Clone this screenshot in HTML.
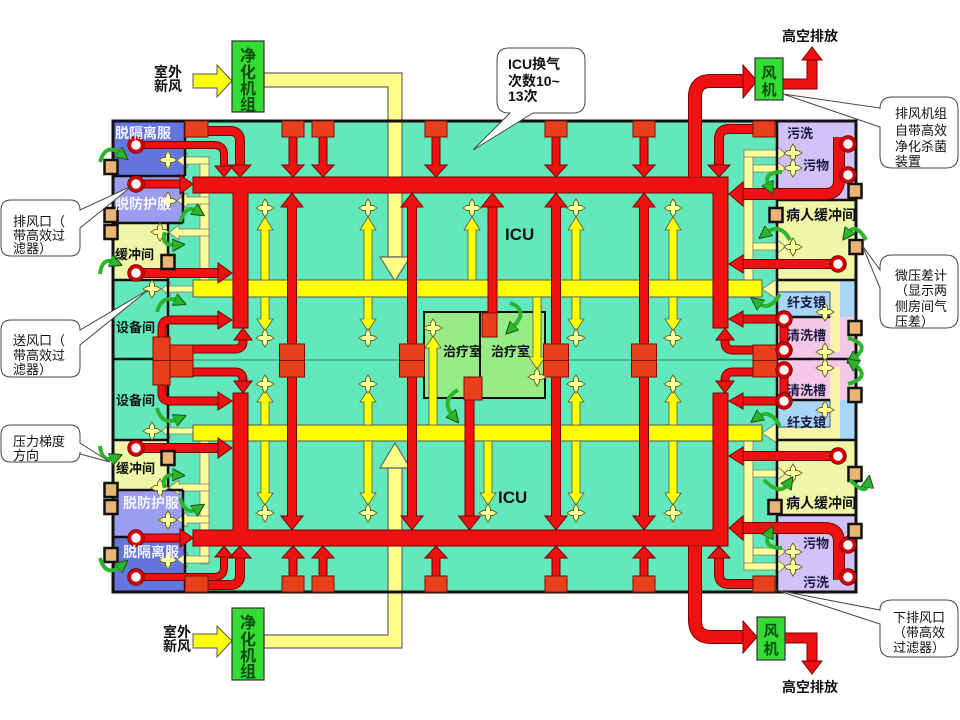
<!DOCTYPE html>
<html><head><meta charset="utf-8">
<style>
html,body{margin:0;padding:0;background:#fff;}
svg{display:block;}
text{font-family:"Liberation Sans","Noto Sans CJK SC","WenQuanYi Zen Hei",sans-serif;}
.b{font-weight:bold;}
</style></head><body>
<svg width="960" height="720" viewBox="0 0 960 720" xmlns="http://www.w3.org/2000/svg">
<defs>
<path id="st" d="M0,-9 L2.5,-5 L2.5,-2.5 L5,-2.5 L9,0 L5,2.5 L2.5,2.5 L2.5,5 L0,9 L-2.5,5 L-2.5,2.5 L-5,2.5 L-9,0 L-5,-2.5 L-2.5,-2.5 L-2.5,-5Z" fill="#ffff99" stroke="#6b6b30" stroke-width="1"/>
<g id="ci"><circle r="6.5" fill="#fff" stroke="#d40000" stroke-width="3.5"/><circle r="8.3" fill="none" stroke="#600" stroke-width="0.8"/></g>
<rect id="sq" x="-6.5" y="-7" width="13" height="14" fill="#e9b476" stroke="#111" stroke-width="2.5"/>
<marker id="gm" viewBox="0 0 10 10" refX="3" refY="5" markerWidth="3.2" markerHeight="3.2" orient="auto"><path d="M0,0 L10,5 L0,10Z" fill="#2cb52c" stroke="#145214" stroke-width="0.8"/></marker>
</defs>
<rect width="960" height="720" fill="#fff"/>

<!-- building -->
<rect x="113" y="121" width="743" height="471" fill="#62e8bb"/>
<!-- left rooms -->
<rect x="113" y="121" width="72" height="55" fill="#6475dc"/>
<rect x="113" y="176" width="70" height="47" fill="#9c9cf0"/>
<rect x="113" y="223" width="55" height="57" fill="#eef6a8"/>
<rect x="113" y="440" width="55" height="50" fill="#eef6a8"/>
<rect x="113" y="490" width="70" height="47" fill="#9c9cf0"/>
<rect x="113" y="537" width="72" height="55" fill="#6475dc"/>
<!-- right rooms -->
<rect x="777" y="121" width="79" height="79" fill="#d0c2f6"/>
<rect x="777" y="200" width="79" height="80" fill="#eef6a8"/>
<rect x="777" y="280" width="79" height="37" fill="#a8d6f6"/>
<rect x="777" y="317" width="79" height="83" fill="#f6c8e8"/>
<rect x="777" y="400" width="79" height="40" fill="#a8d6f6"/>
<rect x="777" y="440" width="79" height="75" fill="#eef6a8"/>
<rect x="777" y="515" width="79" height="77" fill="#d0c2f6"/>
<path d="M777,281 H840 V352 H830 V291 H777Z" fill="#f6f6a6"/>
<path d="M777,440 H840 V367 H830 V428 H777Z" fill="#f6f6a6"/>
<rect x="777" y="292" width="53" height="25" fill="#a8d6f6" stroke="#335" stroke-width="0.8"/>
<rect x="777" y="400" width="53" height="27" fill="#a8d6f6" stroke="#335" stroke-width="0.8"/>

<line x1="168" y1="360" x2="777" y2="360" stroke="#2c8a70" stroke-width="1"/>

<!-- treatment rooms -->
<rect x="424" y="312" width="56" height="86" fill="#98ec88" stroke="#111" stroke-width="2"/>
<rect x="480" y="312" width="65" height="86" fill="#98ec88" stroke="#111" stroke-width="2"/>

<!-- fresh air -->
<path d="M193,74 H217 V65 L232,81 L217,97 V88 H193Z" fill="#ffff00" stroke="#555" stroke-width="1"/>
<path d="M264,73 H402 V257 H388 V87 H264Z" fill="#ffff88" stroke="#666" stroke-width="1.2"/>
<path d="M380,257 H410 L395,281Z" fill="#ffff88" stroke="#666" stroke-width="1.2"/>
<path d="M193,634 H217 V626 L232,641 L217,657 V648 H193Z" fill="#ffff00" stroke="#555" stroke-width="1"/>
<path d="M264,635 H388 V468 H402 V648 H264Z" fill="#ffff88" stroke="#666" stroke-width="1.2"/>
<path d="M380,468 H410 L395,443Z" fill="#ffff88" stroke="#666" stroke-width="1.2"/>

<!-- pale yellow branch ducts -->
<g fill="#ffff99" stroke="#777" stroke-width="0.8">
<rect x="200" y="157" width="9" height="123"/>
<rect x="200" y="441" width="9" height="123"/>
<path d="M209,157 H187 V153 L177,160.5 L187,168 V164 H209Z"/>
<path d="M209,197 H187 V193 L177,200.5 L187,208 V204 H209Z"/>
<path d="M209,229 H179 V225 L169,232.5 L179,240 V236 H209Z"/>
<path d="M209,556 H187 V552 L177,559.5 L187,567 V563 H209Z"/>
<path d="M209,516 H187 V512 L177,519.5 L187,527 V523 H209Z"/>
<path d="M209,484 H179 V480 L169,487.5 L179,495 V491 H209Z"/>
<path d="M193,286 H170 V282 L162,289 L170,296 V292 H193Z"/>
<path d="M193,428 H170 V424 L162,431 L170,438 V434 H193Z"/>
<rect x="744" y="150" width="9" height="130"/>
<rect x="744" y="441" width="9" height="129"/>
<path d="M744,150 H776 V146 L786,153.5 L776,161 V157 H744Z"/>
<path d="M753,165 H776 V161 L786,168.5 L776,176 V172 H753Z"/>
<path d="M753,243 H776 V239 L786,246.5 L776,254 V250 H753Z"/>
<path d="M744,563 H776 V559 L786,566.5 L776,574 V570 H744Z"/>
<path d="M753,548 H776 V544 L786,551.5 L776,559 V555 H753Z"/>
<path d="M753,470 H776 V466 L786,473.5 L776,481 V477 H753Z"/>
<path d="M762,289 L777,279 L777,299Z"/>
<path d="M762,433 L777,423 L777,443Z"/>
</g>

<!-- yellow mains -->
<rect x="193" y="280" width="569" height="17" fill="#ffff00" stroke="#555" stroke-width="1"/>
<rect x="193" y="425" width="569" height="16" fill="#ffff00" stroke="#555" stroke-width="1"/>

<!-- thin yellow arrows -->
<g fill="#ffff00" stroke="#555" stroke-width="0.8">
<path d="M261,280 V230 H257 L265,217 L273,230 H269 V280Z"/>
<path d="M364,280 V230 H360 L368,217 L376,230 H372 V280Z"/>
<path d="M468,280 V230 H464 L472,217 L480,230 H476 V280Z"/>
<path d="M572,280 V230 H568 L576,217 L584,230 H580 V280Z"/>
<path d="M669,280 V230 H665 L673,217 L681,230 H677 V280Z"/>
<path d="M261,297 V319 H257 L265,331 L273,319 H269 V297Z"/>
<path d="M364,297 V319 H360 L368,331 L376,319 H372 V297Z"/>
<path d="M572,297 V319 H568 L576,331 L584,319 H580 V297Z"/>
<path d="M669,297 V319 H665 L673,331 L681,319 H677 V297Z"/>
<path d="M261,425 V402 H257 L265,390 L273,402 H269 V425Z"/>
<path d="M364,425 V402 H360 L368,390 L376,402 H372 V425Z"/>
<path d="M572,425 V402 H568 L576,390 L584,402 H580 V425Z"/>
<path d="M669,425 V402 H665 L673,390 L681,402 H677 V425Z"/>
<path d="M261,441 V493 H257 L265,505 L273,493 H269 V441Z"/>
<path d="M364,441 V493 H360 L368,505 L376,493 H372 V441Z"/>
<path d="M484,441 V493 H480 L488,505 L496,493 H492 V441Z"/>
<path d="M572,441 V493 H568 L576,505 L584,493 H580 V441Z"/>
<path d="M669,441 V493 H665 L673,505 L681,493 H677 V441Z"/>
<path d="M429,425 V348 H425 L433,336 L441,348 H437 V425Z"/>
<path d="M533,297 V357 H529 L537,369 L545,357 H541 V297Z"/>
</g>

<!-- walls -->
<g stroke="#111" stroke-width="2.5" fill="none">
<path d="M185,121 V176 M113,176 H185 M183,176 V223 M113,223 H183 M168,223 V440 M113,280 H168 M113,359 H168 M113,440 H168 M168,440 V490 M113,490 H183 M183,490 V537 M113,537 H185 M185,537 V592"/>
<path d="M777,121 V592 M777,200 H856 M777,280 H856 M777,359 H856 M777,440 H856 M777,515 H856 M777,317 H830 M777,400 H830"/>
</g>
<rect x="113" y="121" width="743" height="471" fill="none" stroke="#111" stroke-width="3"/>

<!-- red mains -->
<g fill="#ee1111" stroke="#7a0000" stroke-width="1">
<path d="M193,177 H728 V328 H713 V193 H248 V328 H233 V193 H193Z"/>
<path d="M193,546 H728 V393 H713 V530 H248 V393 H233 V530 H193Z"/>
<path d="M292,193 L303,207 H296.5 V516 H303 L292,530 L281,516 H287.5 V207 H281Z"/>
<path d="M412,193 L423,207 H416.5 V516 H423 L412,530 L401,516 H407.5 V207 H401Z"/>
<path d="M556,193 L567,207 H560.5 V516 H567 L556,530 L545,516 H551.5 V207 H545Z"/>
<path d="M644,193 L655,207 H648.5 V516 H655 L644,530 L633,516 H639.5 V207 H633Z"/>
<path d="M289,137 H297 V165 H304 L293,177 L282,165 H289Z"/>
<path d="M319,137 H327 V165 H334 L323,177 L312,165 H319Z"/>
<path d="M432,137 H440 V165 H447 L436,177 L425,165 H432Z"/>
<path d="M552,137 H560 V165 H567 L556,177 L545,165 H552Z"/>
<path d="M640,137 H648 V165 H655 L644,177 L633,165 H640Z"/>
<path d="M289,576 H297 V558 H304 L293,546 L282,558 H289Z"/>
<path d="M319,576 H327 V558 H334 L323,546 L312,558 H319Z"/>
<path d="M432,576 H440 V558 H447 L436,546 L425,558 H432Z"/>
<path d="M552,576 H560 V558 H567 L556,546 L545,558 H552Z"/>
<path d="M640,576 H648 V558 H655 L644,546 L633,558 H640Z"/>
<path d="M488,207 H497 V313 H488Z"/>
<path d="M481.5,207 L503.5,207 L492.5,193Z"/>
<path d="M465,400 H474 V516 H465Z"/>
<path d="M458.5,516 L480.5,516 L469.5,530Z"/>
</g>

<!-- red curved ducts: outline -->
<g fill="none" stroke="#7a0000">
<path stroke-width="10" d="M207,131 H230 Q240,131 240,141 V166"/>
<path stroke-width="8" d="M143,145 H214 Q224,145 224,155 V167"/>
<path stroke-width="10" d="M207,585 H230 Q240,585 240,575 V557"/>
<path stroke-width="8" d="M143,577 H214 Q224,577 224,567 V556"/>
<path stroke-width="10" d="M753,129 H729 Q719,129 719,139 V166"/>
<path stroke-width="10" d="M753,584 H729 Q719,584 719,574 V557"/>
<path stroke-width="12" d="M839,137 V180 Q839,194 825,194 H742"/>
<path stroke-width="12" d="M839,580 V542 Q839,528 825,528 H742"/>
<path stroke-width="10" d="M838,264 H742 M838,456 H742"/>
<path stroke-width="9" d="M784,319 H742 M784,319 V350 M784,401 H742 M784,370 V401"/>
<path stroke-width="9" d="M753,350 H733 Q725,350 725,342 V339 M753,372 H733 Q725,372 725,380 V382"/>
<path stroke-width="9" d="M162,337 V328 Q162,320 170,320 H219 M162,385 V393 Q162,401 170,401 H219"/>
<path stroke-width="9" d="M193,349 H235 Q243,349 243,341 V339 M193,372 H235 Q243,372 243,380 V382"/>
<path stroke-width="9" d="M143,184 H181 M143,538 H181"/>
<path stroke-width="10" d="M143,273 H219 M143,448 H219"/>
<path stroke-width="14" d="M695,177 V97 Q695,81 711,81 H744"/>
<path stroke-width="14" d="M695,546 V620 Q695,637 711,637 H744"/>
<path stroke-width="11" d="M783,84 H812 V59 M785,638 H812 V662"/>
</g>
<g fill="none" stroke="#ee1111">
<path stroke-width="8" d="M207,131 H230 Q240,131 240,141 V166"/>
<path stroke-width="6" d="M143,145 H214 Q224,145 224,155 V167"/>
<path stroke-width="8" d="M207,585 H230 Q240,585 240,575 V557"/>
<path stroke-width="6" d="M143,577 H214 Q224,577 224,567 V556"/>
<path stroke-width="8" d="M753,129 H729 Q719,129 719,139 V166"/>
<path stroke-width="8" d="M753,584 H729 Q719,584 719,574 V557"/>
<path stroke-width="10" d="M839,137 V180 Q839,194 825,194 H742"/>
<path stroke-width="10" d="M839,580 V542 Q839,528 825,528 H742"/>
<path stroke-width="8" d="M838,264 H742 M838,456 H742"/>
<path stroke-width="7" d="M784,319 H742 M784,319 V350 M784,401 H742 M784,370 V401"/>
<path stroke-width="7" d="M753,350 H733 Q725,350 725,342 V339 M753,372 H733 Q725,372 725,380 V382"/>
<path stroke-width="7" d="M162,337 V328 Q162,320 170,320 H219 M162,385 V393 Q162,401 170,401 H219"/>
<path stroke-width="7" d="M193,349 H235 Q243,349 243,341 V339 M193,372 H235 Q243,372 243,380 V382"/>
<path stroke-width="7" d="M143,184 H181 M143,538 H181"/>
<path stroke-width="8" d="M143,273 H219 M143,448 H219"/>
<path stroke-width="12" d="M695,177 V97 Q695,81 711,81 H744"/>
<path stroke-width="12" d="M695,546 V620 Q695,637 711,637 H744"/>
<path stroke-width="9" d="M783,84 H812 V59 M785,638 H812 V662"/>
</g>
<g fill="#ee1111" stroke="#7a0000" stroke-width="1">
<polygon points="229,165 251,165 240,177"/>
<polygon points="215,166 233,166 224,177"/>
<polygon points="229,558 251,558 240,546"/>
<polygon points="215,557 233,557 224,546"/>
<polygon points="708,165 730,165 719,177"/>
<polygon points="708,558 730,558 719,546"/>
<polygon points="743,182 743,206 729,194"/>
<polygon points="743,516 743,540 729,528"/>
<polygon points="743,255 743,273 729,264"/>
<polygon points="743,447 743,465 729,456"/>
<polygon points="743,311 743,327 729,319"/>
<polygon points="743,393 743,409 729,401"/>
<polygon points="716,340 734,340 725,328"/>
<polygon points="716,381 734,381 725,393"/>
<polygon points="218,311 218,329 232,320"/>
<polygon points="218,392 218,410 232,401"/>
<polygon points="234,340 252,340 243,328"/>
<polygon points="234,381 252,381 243,393"/>
<polygon points="180,175 180,194 193,184"/>
<polygon points="218,263 218,283 232,273"/>
<polygon points="218,438 218,458 232,448"/>
<polygon points="180,529 180,547 193,538"/>
<polygon points="743,65 743,98 757,81"/>
<polygon points="743,621 743,653 757,637"/>
<polygon points="802,60 822,60 812,47"/>
<polygon points="802,661 822,661 812,674"/>
</g>

<!-- red boxes -->
<g fill="#e8401c" stroke="#7a1000" stroke-width="1">
<rect x="282" y="121" width="22" height="16"/><rect x="312" y="121" width="22" height="16"/><rect x="425" y="121" width="22" height="16"/><rect x="545" y="121" width="22" height="16"/><rect x="633" y="121" width="22" height="16"/>
<rect x="282" y="576" width="22" height="16"/><rect x="312" y="576" width="22" height="16"/><rect x="425" y="576" width="22" height="16"/><rect x="545" y="576" width="22" height="16"/><rect x="633" y="576" width="22" height="16"/>
<rect x="185" y="121" width="23" height="16"/><rect x="185" y="576" width="23" height="16"/>
<rect x="753" y="121" width="22" height="16"/><rect x="753" y="576" width="22" height="16"/>
<rect x="279.5" y="344" width="25" height="33"/><rect x="399.5" y="344" width="25" height="33"/><rect x="543.5" y="344" width="25" height="33"/><rect x="631.5" y="344" width="25" height="33"/>
<rect x="153" y="337" width="17" height="48"/><rect x="170" y="345" width="23" height="32"/>
<rect x="753" y="345" width="24" height="32"/>
<rect x="482" y="313" width="15" height="24"/><rect x="464" y="377" width="18" height="23"/>
</g>
<path d="M279.5,360.5 H304.5 M399.5,360.5 H424.5 M543.5,360.5 H568.5 M631.5,360.5 H656.5 M153,360.5 H193 M753,360.5 H777" stroke="#7a1000" stroke-width="1"/>

<!-- stars -->
<g>
<use href="#st" x="265" y="208"/><use href="#st" x="368" y="208"/><use href="#st" x="472" y="208"/><use href="#st" x="576" y="208"/><use href="#st" x="673" y="208"/>
<use href="#st" x="265" y="338"/><use href="#st" x="368" y="338"/><use href="#st" x="576" y="338"/><use href="#st" x="673" y="338"/>
<use href="#st" x="265" y="384"/><use href="#st" x="368" y="384"/><use href="#st" x="576" y="384"/><use href="#st" x="673" y="384"/>
<use href="#st" x="265" y="513"/><use href="#st" x="368" y="513"/><use href="#st" x="488" y="513"/><use href="#st" x="576" y="513"/><use href="#st" x="673" y="513"/>
<use href="#st" x="433" y="328"/><use href="#st" x="537" y="377"/>
<use href="#st" x="168" y="160"/><use href="#st" x="168" y="201"/><use href="#st" x="160" y="232"/><use href="#st" x="152" y="289"/><use href="#st" x="152" y="431"/><use href="#st" x="160" y="488"/><use href="#st" x="168" y="520"/><use href="#st" x="168" y="560"/>
<use href="#st" x="793" y="153"/><use href="#st" x="793" y="168"/><use href="#st" x="793" y="247"/><use href="#st" x="825" y="312"/><use href="#st" x="825" y="352"/><use href="#st" x="825" y="368"/><use href="#st" x="825" y="410"/><use href="#st" x="793" y="473"/><use href="#st" x="793" y="552"/><use href="#st" x="793" y="567"/>
</g>
<!-- exhaust circles -->
<g>
<use href="#ci" x="136" y="145"/><use href="#ci" x="136" y="184"/><use href="#ci" x="136" y="273"/><use href="#ci" x="136" y="448"/><use href="#ci" x="136" y="538"/><use href="#ci" x="136" y="577"/>
<use href="#ci" x="848" y="144"/><use href="#ci" x="848" y="175"/><use href="#ci" x="838" y="264"/><use href="#ci" x="784" y="319"/><use href="#ci" x="784" y="350"/><use href="#ci" x="784" y="370"/><use href="#ci" x="784" y="401"/><use href="#ci" x="838" y="456"/><use href="#ci" x="848" y="545"/><use href="#ci" x="848" y="577"/>
</g>
<!-- pressure gauges -->
<g>
<use href="#sq" x="111" y="167"/><use href="#sq" x="111" y="215"/><use href="#sq" x="111" y="232"/><use href="#sq" x="168" y="262"/><use href="#sq" x="168" y="458"/><use href="#sq" x="111" y="490"/><use href="#sq" x="111" y="507"/><use href="#sq" x="111" y="555"/>
<use href="#sq" x="855" y="191"/><use href="#sq" x="776" y="215"/><use href="#sq" x="856" y="247"/><use href="#sq" x="855" y="328"/><use href="#sq" x="855" y="395"/><use href="#sq" x="855" y="474"/><use href="#sq" x="775" y="507"/><use href="#sq" x="855" y="531"/>
</g>
<!-- green arrows -->
<g fill="none" stroke="#2cb52c" stroke-width="4" marker-end="url(#gm)">
<path d="M100,162 Q106,142 121,154"/>
<path d="M180,222 Q186,204 197,211"/>
<path d="M165,232 Q160,246 176,245"/>
<path d="M100,274 Q102,257 114,262"/>
<path d="M157,312 Q162,294 178,301"/>
<path d="M157,408 Q162,426 178,419"/>
<path d="M100,446 Q102,463 114,458"/>
<path d="M165,488 Q160,474 176,475"/>
<path d="M180,498 Q186,516 197,509"/>
<path d="M100,558 Q106,578 121,566"/>
<path d="M782,172 Q762,172 769,186"/>
<path d="M790,240 Q780,222 766,233"/>
<path d="M866,240 Q856,222 848,233"/>
<path d="M780,294 Q770,312 758,303"/>
<path d="M848,338 Q872,345 854,358"/>
<path d="M848,384 Q872,377 854,364"/>
<path d="M780,426 Q770,408 758,417"/>
<path d="M764,480 Q780,496 788,484"/>
<path d="M850,480 Q866,496 868,484"/>
<path d="M782,548 Q762,548 769,534"/>
<path d="M510,303 Q530,310 512,328"/>
<path d="M458,390 Q440,400 453,416"/>
</g>

<!-- room labels -->
<g class="b" font-size="14">
<text x="115" y="138" fill="#f4f4ff">脱隔离服</text>
<text x="115" y="209" fill="#f4f4ff">脱防护服</text>
<text x="123" y="508" fill="#f4f4ff">脱防护服</text>
<text x="123" y="557" fill="#f4f4ff">脱隔离服</text>
</g>
<g class="b" font-size="13" fill="#111">
<text x="115" y="259">缓冲间</text>
<text x="116" y="332">设备间</text>
<text x="116" y="405">设备间</text>
<text x="116" y="473">缓冲间</text>
</g>
<g class="b" font-size="13" fill="#1a1a40">
<text x="787" y="138">污洗</text>
<text x="803" y="170">污物</text>
<text x="786" y="220" font-size="14" fill="#111">病人缓冲间</text>
<text x="787" y="307">纤支镜</text>
<text x="787" y="340">清洗槽</text>
<text x="787" y="395">清洗槽</text>
<text x="787" y="427">纤支镜</text>
<text x="786" y="508" font-size="14" fill="#111">病人缓冲间</text>
<text x="803" y="548">污物</text>
<text x="803" y="587">污洗</text>
</g>
<g class="b" fill="#111">
<text x="505" y="240" font-size="17">ICU</text>
<text x="498" y="503" font-size="17">ICU</text>
<text x="443" y="356" font-size="13">治疗室</text>
<text x="491" y="356" font-size="13">治疗室</text>
</g>

<!-- purification units & fans -->
<rect x="232" y="41" width="32" height="71" fill="#33dd33" stroke="#333" stroke-width="1.2"/>
<rect x="232" y="608" width="32" height="72" fill="#33dd33" stroke="#333" stroke-width="1.2"/>
<g class="b" font-size="16" fill="#0b4d0b" text-anchor="middle">
<text x="248" y="61">净</text><text x="248" y="78">化</text><text x="248" y="94">机</text><text x="248" y="110">组</text>
<text x="248" y="628">净</text><text x="248" y="645">化</text><text x="248" y="661">机</text><text x="248" y="677">组</text>
</g>
<rect x="755" y="58" width="28" height="42" fill="#33dd33" stroke="#333" stroke-width="1.2"/>
<rect x="757" y="617" width="28" height="43" fill="#33dd33" stroke="#333" stroke-width="1.2"/>
<g class="b" font-size="15" fill="#0b4d0b" text-anchor="middle">
<text x="769" y="78">风</text><text x="769" y="95">机</text>
<text x="771" y="636">风</text><text x="771" y="654">机</text>
</g>
<g class="b" font-size="14" fill="#111">
<text x="154" y="77">室外</text><text x="154" y="91">新风</text>
<text x="163" y="637">室外</text><text x="163" y="651">新风</text>
<text x="810" y="41" text-anchor="middle">高空排放</text>
<text x="810" y="692" text-anchor="middle">高空排放</text>
</g>

<!-- callouts -->
<g fill="#fff" stroke="#444" stroke-width="1">
<path d="M11,200 H70 Q80,200 80,210 L132,186 L80,228 V246 Q80,256 70,256 H11 Q1,256 1,246 V210 Q1,200 11,200Z"/>
<path d="M11,320 H70 Q80,320 80,330 L148,290 L80,345 V367 Q80,377 70,377 H11 Q1,377 1,367 V330 Q1,320 11,320Z"/>
<path d="M11,425 H70 Q80,425 80,435 V443 L110,462 L80,454 V452 Q80,462 70,462 H11 Q1,462 1,452 V435 Q1,425 11,425Z"/>
<path d="M509,48 H573 Q585,48 585,60 V101 Q585,113 573,113 H533 L473,150 L510,113 H509 Q497,113 497,101 V60 Q497,48 509,48Z"/>
<path d="M892,97 H946 Q958,97 958,109 V156 Q958,168 946,168 H892 Q880,168 880,156 V127 L783,94 L880,108 V109 Q880,97 892,97Z"/>
<path d="M892,255 H946 Q958,255 958,267 V316 Q958,328 946,328 H892 Q880,328 880,316 V288 L862,245 L880,270 V267 Q880,255 892,255Z"/>
<path d="M892,600 H946 Q958,600 958,612 V645 Q958,657 946,657 H892 Q880,657 880,645 V624 L776,590 L880,610 Q880,600 892,600Z"/>
</g>
<g font-size="13" fill="#111">
<text x="13" y="226">排风口（</text><text x="13" y="240">带高效过</text><text x="13" y="253">滤器）</text>
<text x="13" y="345">送风口（</text><text x="13" y="360">带高效过</text><text x="13" y="374">滤器）</text>
<text x="13" y="446">压力梯度</text><text x="13" y="460">方向</text>
<text x="895" y="118">排风机组</text><text x="895" y="135">自带高效</text><text x="895" y="151">净化杀菌</text><text x="895" y="166">装置</text>
<text x="895" y="280">微压差计</text><text x="895" y="295">（显示两</text><text x="895" y="311">侧房间气</text><text x="895" y="326">压差）</text>
<text x="893" y="622">下排风口</text><text x="893" y="637">（带高效</text><text x="893" y="652">过滤器）</text>
</g>
<g class="b" font-size="14" fill="#111">
<text x="508" y="69">ICU换气</text><text x="508" y="86">次数10~</text><text x="508" y="101">13次</text>
</g>
</svg>
</body></html>
